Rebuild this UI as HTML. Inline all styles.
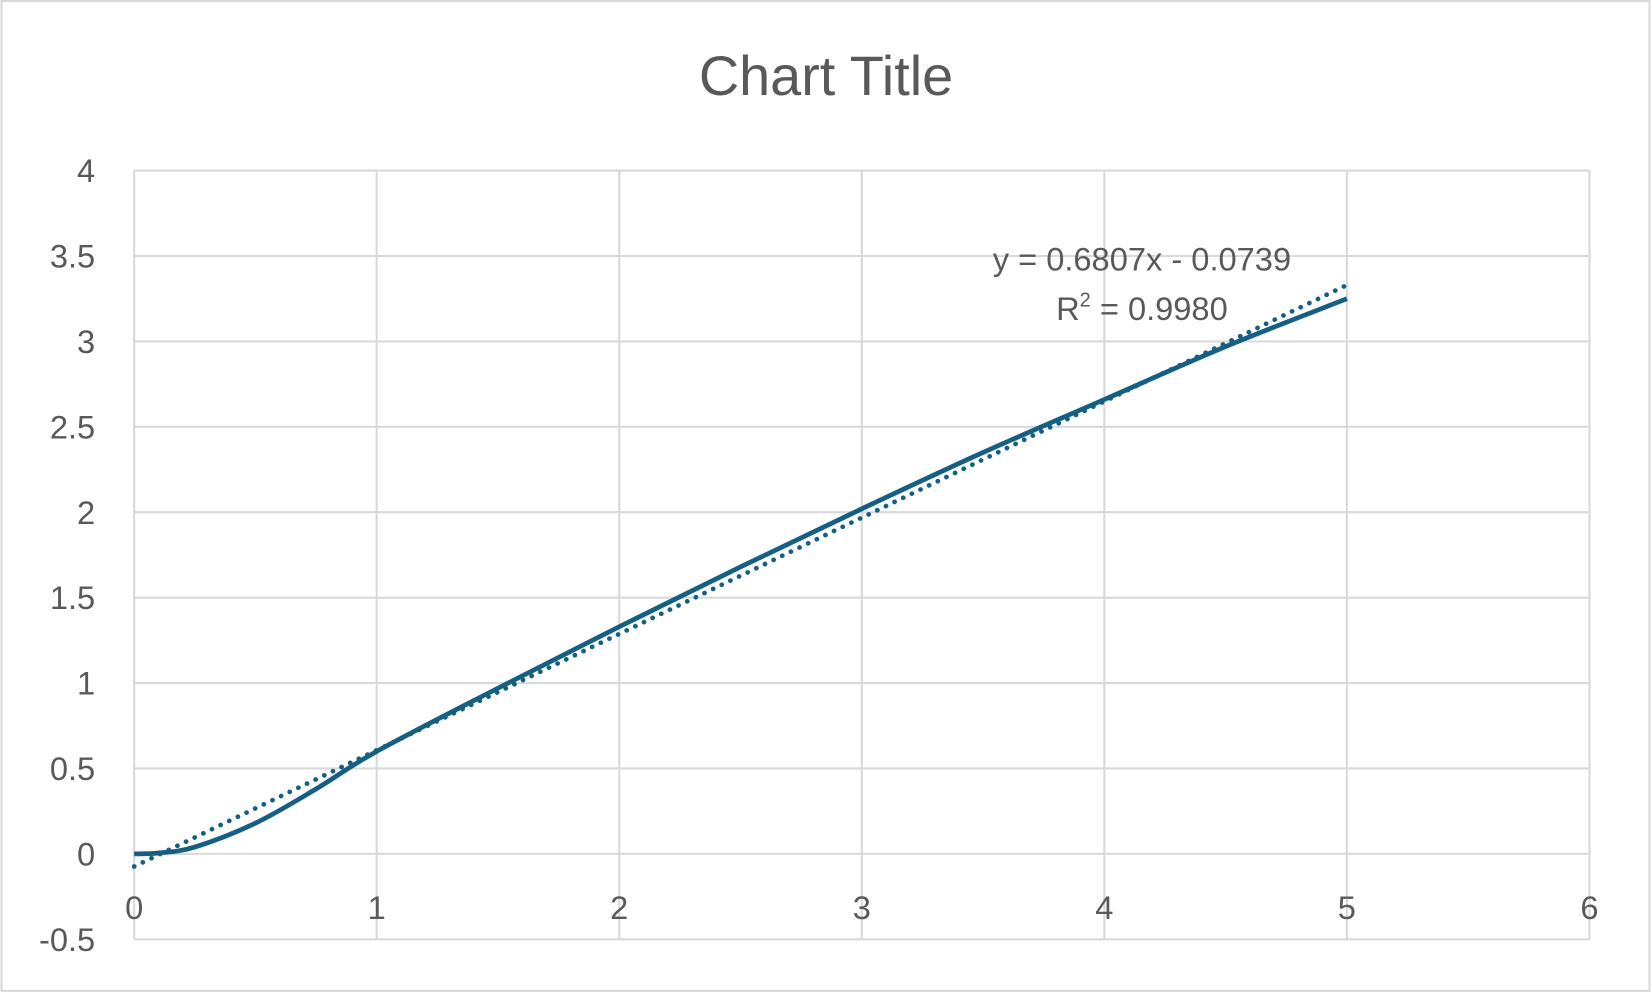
<!DOCTYPE html>
<html><head><meta charset="utf-8"><style>
html,body{margin:0;padding:0;background:#fff;}
svg{display:block;font-family:"Liberation Sans",Arial,sans-serif;}
</style></head><body>
<svg id="chart" width="1652" height="993" viewBox="0 0 1568 943" xmlns="http://www.w3.org/2000/svg">
<rect x="1" y="1" width="1565" height="940" fill="#fff" stroke="#d9d9d9" stroke-width="2"/>
<text x="784" y="90" text-anchor="middle" font-size="53" fill="#595959">Chart Title</text>
<g id="grid"></g><g id="labels"></g><g id="series"></g>
</svg>
<script>
const xTicks=[0,1,2,3,4,5,6];
const yTicks=[-0.5,0,0.5,1,1.5,2,2.5,3,3.5,4];
const xValues=[0,0.1,0.25,0.5,0.75,1,1.5,2,2.5,3,3.5,4,4.5,5];
const yValues=[0,0.005,0.04,0.18,0.38,0.6,0.97,1.33,1.68,2.02,2.35,2.66,2.97,3.25];
const NS="http://www.w3.org/2000/svg";
const X0=127,X1=1509,Y0=892,Y1=162;
function sx(v){return X0+(v-0)/(6-0)*(X1-X0);}
function sy(v){return Y0-(v+0.5)/(4.5)*(Y0-Y1);}
function mk(tag,attrs,parent){const e=document.createElementNS(NS,tag);for(const k in attrs)e.setAttribute(k,attrs[k]);parent.appendChild(e);return e;}
const grid=document.getElementById('grid'),labels=document.getElementById('labels'),series=document.getElementById('series');
yTicks.forEach(t=>{
  const l=mk('line',{x1:X0,x2:X1,y1:sy(t),y2:sy(t),stroke:'#d9d9d9','stroke-width':2},grid);
  
  
  const tx=mk('text',{x:90,y:sy(t)+11,'text-anchor':'end','font-size':31,fill:'#595959'},labels);
  tx.textContent=String(t);
  
  
});
xTicks.forEach(t=>{
  const l=mk('line',{x1:sx(t),x2:sx(t),y1:Y1,y2:Y0,stroke:'#d9d9d9','stroke-width':2},grid);
  
  
  const tx=mk('text',{x:sx(t),y:sy(0)+62,'text-anchor':'middle','font-size':31,fill:'#595959'},labels);
  tx.textContent=String(t);
  
  
});
const pts=xValues.map((x,i)=>[sx(x),sy(yValues[i])]);
let d='M'+pts[0][0]+','+pts[0][1];
for(let i=0;i<pts.length-1;i++){
  const p0=pts[Math.max(0,i-1)],p1=pts[i],p2=pts[i+1],p3=pts[Math.min(pts.length-1,i+2)];
  const c1=[p1[0]+(p2[0]-p0[0])/6,p1[1]+(p2[1]-p0[1])/6];
  const c2=[p2[0]-(p3[0]-p1[0])/6,p2[1]-(p3[1]-p1[1])/6];
  d+=' C'+c1[0]+','+c1[1]+' '+c2[0]+','+c2[1]+' '+p2[0]+','+p2[1];
}
const n=xValues.length;let mx=0,my=0;xValues.forEach((x,i)=>{mx+=x;my+=yValues[i];});mx/=n;my/=n;
let sxy=0,sxx=0,syy=0;xValues.forEach((x,i)=>{sxy+=(x-mx)*(yValues[i]-my);sxx+=(x-mx)**2;syy+=(yValues[i]-my)**2;});
const slope=sxy/sxx,icpt=my-slope*mx,r2=sxy*sxy/(sxx*syy);
const xa=xValues[0],xb=xValues[n-1];
const tl=mk('line',{x1:sx(xa),y1:sy(slope*xa+icpt),x2:sx(xb),y2:sy(slope*xb+icpt),stroke:'#156082','stroke-width':4.5,'stroke-dasharray':'0.1 9','stroke-linecap':'round'},series);


const line=mk('path',{d:d,fill:'none',stroke:'#156082','stroke-width':4.5,'stroke-linejoin':'round'},series);


const eq=mk('text',{x:1084,y:257,'text-anchor':'middle','font-size':31,fill:'#595959'},labels);
eq.textContent='y = '+slope.toFixed(4)+'x '+(icpt<0?'- ':'+ ')+Math.abs(icpt).toFixed(4);


const rt=mk('text',{x:1084,y:304,'text-anchor':'middle','font-size':31,fill:'#595959'},labels);
rt.innerHTML='R<tspan dy="-13" font-size="19">2</tspan><tspan dy="13"> = '+r2.toFixed(4)+'</tspan>';


</script>
</body></html>
